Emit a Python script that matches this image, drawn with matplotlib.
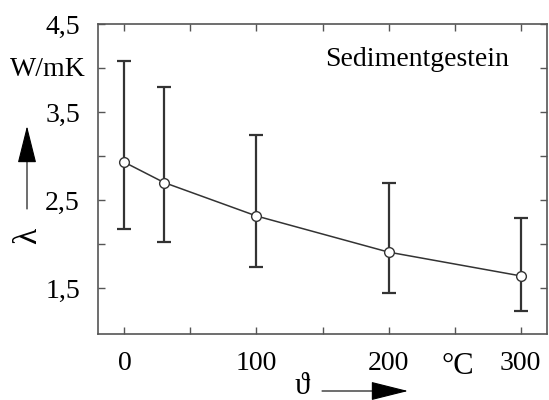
import matplotlib
matplotlib.use("Agg")
import matplotlib.pyplot as plt
from matplotlib.ticker import FixedLocator

temps = [0, 30, 100, 200, 300]
lam = [2.93, 2.70, 2.32, 1.91, 1.64]
lam_hi = [4.08, 3.78, 3.24, 2.69, 2.30]
lam_lo = [2.17, 2.02, 1.74, 1.44, 1.24]
xticks = [0, 100, 200, 300]
xticklabels = ["0", "100", "200", "300"]
xminor = [50, 150, 250]
yticks = [1.5, 2.5, 3.5, 4.5]
yticklabels = ["1,5", "2,5", "3,5", "4,5"]
yminor = [2.0, 3.0, 4.0]

plt.rcParams['font.family'] = ['Liberation Serif', 'DejaVu Serif']
col = '#333333'

fig = plt.figure(figsize=(5.49, 4.0), dpi=100)
ax = fig.add_axes([98/549, 1-334/400, (547-98)/549, (334-24)/400])

yerr = [[l - lo for l, lo in zip(lam, lam_lo)], [hi - l for l, hi in zip(lam, lam_hi)]]
ax.errorbar(temps, lam, yerr=yerr, fmt='none', ecolor=col, elinewidth=1.6, capsize=5, capthick=1.6, zorder=2)
ax.plot(temps, lam, color=col, lw=1.1, marker='o', markersize=7, markerfacecolor='white',
        markeredgecolor=col, markeredgewidth=1.0, zorder=3)

ax.set_xlim(-20, 320)
ax.set_ylim(0.98, 4.5)
ax.xaxis.set_major_locator(FixedLocator(xticks))
ax.set_xticklabels(xticklabels)
ax.xaxis.set_minor_locator(FixedLocator(xminor))
ax.yaxis.set_major_locator(FixedLocator(yticks))
ax.set_yticklabels(yticklabels)
ax.yaxis.set_minor_locator(FixedLocator(yminor))
ax.tick_params(which='both', direction='in', top=True, right=True, length=5, width=1, color='#555555')
ax.tick_params(axis='both', which='major', labelsize=20)
ax.tick_params(axis='x', which='major', pad=12)
ax.tick_params(axis='y', which='major', pad=13)
for s in ax.spines.values():
    s.set_color('#555555')
    s.set_linewidth(1.2)

ax.text(0.711, 0.885, "Sedimentgestein", transform=ax.transAxes, ha='center', va='center', fontsize=20)
fig.text(48/549, 1-70/400, "W/mK", ha='center', va='center', fontsize=20)
fig.text(458/549, 1-367/400, "°C", ha='center', va='center', fontsize=22)
fig.text(28/549, 1-236/400, "λ", ha='center', va='center', fontsize=24, rotation=90)
fig.text(302/549, 1-386/400, "ϑ", ha='center', va='center', fontsize=22)
fig.add_artist(matplotlib.patches.FancyArrowPatch((27/549, 1-209/400), (27/549, 1-126/400),
               transform=fig.transFigure, arrowstyle='-|>,head_length=1.2,head_width=0.3',
               mutation_scale=20, color='black', lw=0.8, shrinkA=0, shrinkB=0))
fig.add_artist(matplotlib.patches.FancyArrowPatch((322/549, 1-391/400), (408/549, 1-391/400),
               transform=fig.transFigure, arrowstyle='-|>,head_length=1.2,head_width=0.3',
               mutation_scale=20, color='black', lw=0.8, shrinkA=0, shrinkB=0))

fig.savefig("out.png", dpi=100)
